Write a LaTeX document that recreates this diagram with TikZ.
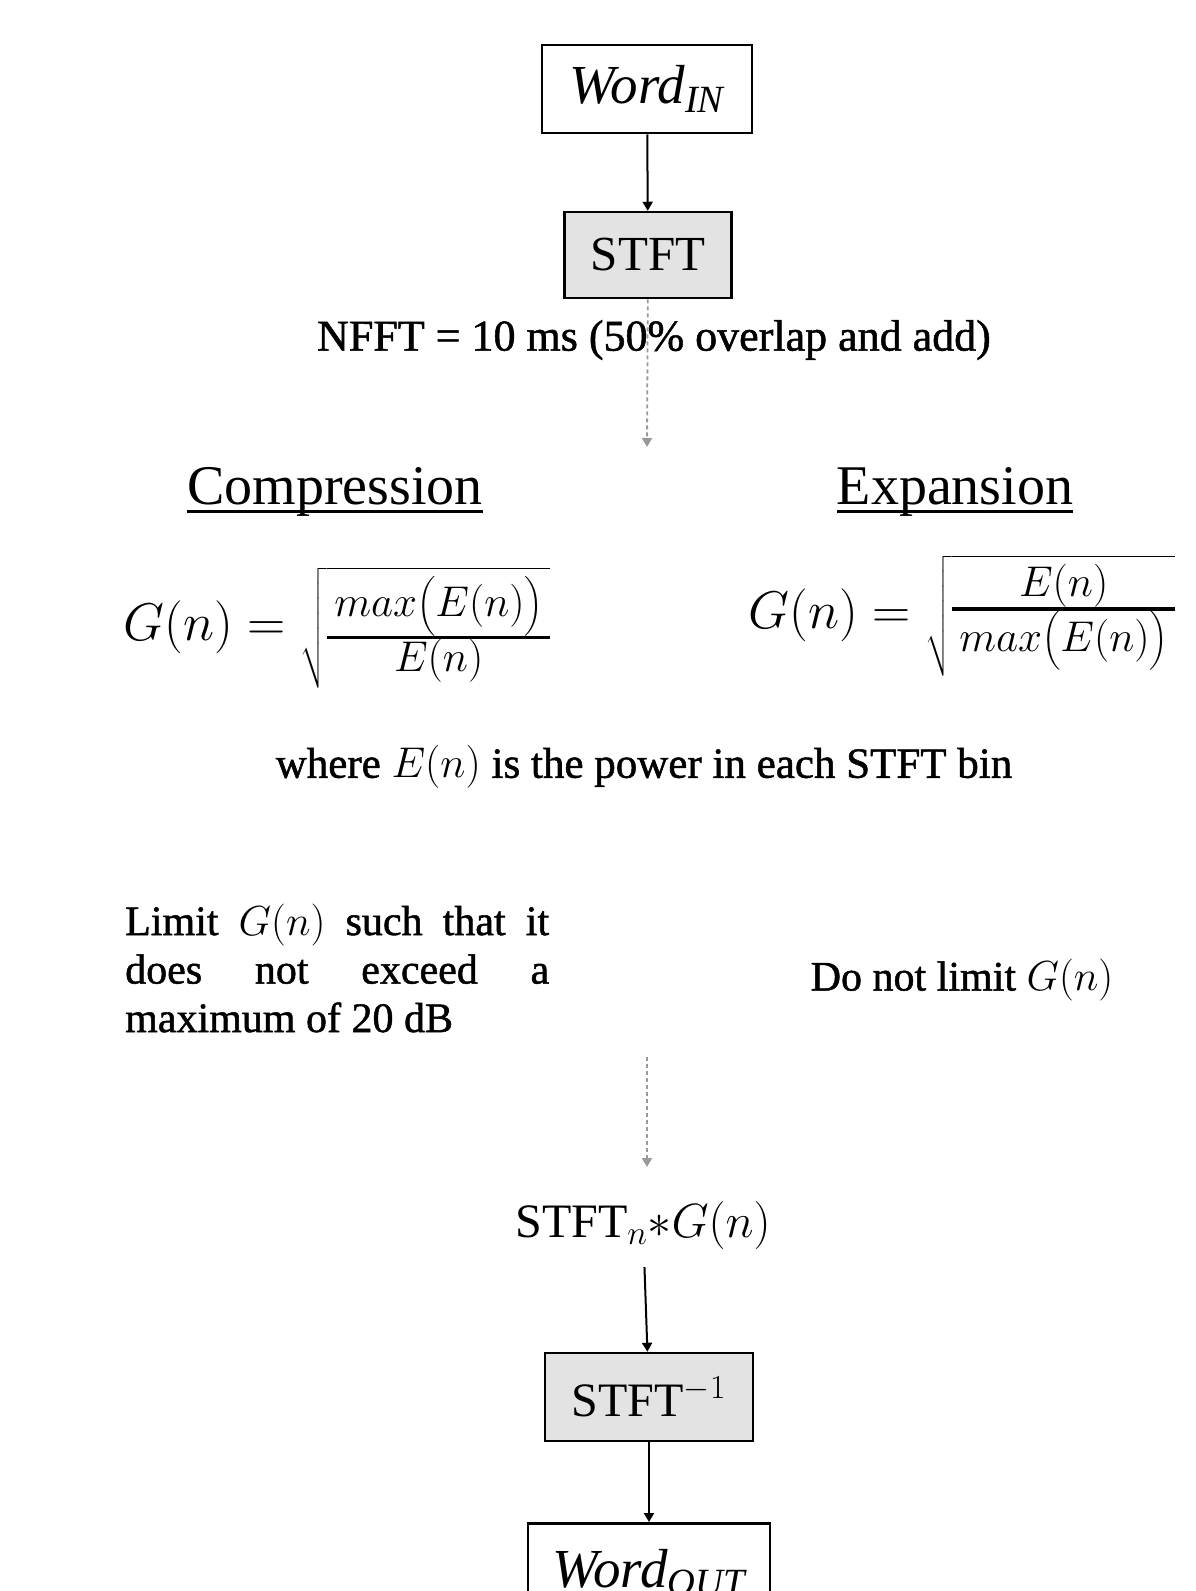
\RequirePackage{fix-cm}
\documentclass[tikz,border=0pt]{standalone}
\usepackage{amsmath}
\usepackage{fontspec}
\setmainfont{Liberation Serif}
\newfontfamily\semib{Liberation Serif}[FakeBold=1.2]
\usetikzlibrary{arrows.meta}
\tikzset{
  box/.style={draw=black, line width=2.5pt, inner sep=0pt, align=center},
  procbox/.style={box, fill=black!11},
  flow/.style={draw=black, line width=2pt, -{Triangle[length=9pt,width=10pt]}},
  dflow/.style={draw=black!40, line width=1.8pt, dash pattern=on 4pt off 3pt, -{Triangle[length=9pt,width=10pt]}},
  txt/.style={inner sep=0pt, align=center}
}
\newcommand{\fs}[1]{\fontsize{#1}{#1}\selectfont}
\newcommand{\myul}[1]{\setbox0\hbox{#1}\rlap{\raisebox{-8.5pt}{\rule{\wd0}{3pt}}}\box0}
\newcommand{\tfr}[2]{{\setlength\arrayrulewidth{3.5pt}\renewcommand\arraystretch{0.8}\begin{array}{@{\,}c@{\,}}#1\\\hline #2\end{array}}}
\begin{document}
\begin{tikzpicture}[x=1pt,y=-1pt]
\useasboundingbox (0,0) rectangle (1196,1591);
\clip (0,0) rectangle (1196,1591);
\node[box, minimum width=210pt, minimum height=88pt] (wordin) at (647,89) {\fs{55}\textit{Word}$_{\textit{IN}}$};
\node[procbox, minimum width=167pt, minimum height=86pt] (stft) at (648,255) {\fs{49}STFT};
\node[txt] (nfft) at (654,340) {\fs{44}\semib NFFT = 10 ms (50\% overlap and add)};
\coordinate (d1) at (647,447);
\node[txt] (comp) at (335,492) {\fs{56}\myul{Compression}};
\node[txt] (expn) at (955,492) {\fs{56}\myul{Expansion}};
\node[txt, anchor=base] (lform) at (337,640) {\fs{53}$G(n) = \sqrt{\text{\fs{43}$\tfr{max\bigl(E(n)\bigr)}{E(n)}$}}$};
\node[txt, anchor=base] (rform) at (962,628) {\fs{53}$G(n) = \sqrt{\text{\fs{43}$\tfr{E(n)}{max\bigl(E(n)\bigr)}$}}$};
\node[txt] (where) at (644,767) {\fs{43}\semib where $E(n)$ is the power in each STFT bin};
\node[inner sep=0pt, text width=424pt, align=justify, anchor=west, font=\fontsize{42}{48.5}\selectfont\semib] (limit) at (125,968)
  {Limit $G(n)$ such that it\linebreak does not exceed a\linebreak maximum of 20 dB};
\node[txt] (donot) at (962,980) {\fs{42}\semib Do not limit $G(n)$};
\coordinate (d2a) at (647,1057);
\coordinate (d2b) at (647,1167);
\node[txt] (stftn) at (643,1225) {\fs{48}STFT$_n{*}G(n)$};
\node[procbox, minimum width=208pt, minimum height=88pt] (istft) at (649,1397) {\fs{48}STFT$^{-1}$};
\node[box, minimum width=242pt, minimum height=112pt, anchor=north] (wordout) at (649,1522) {\raisebox{22pt}{\fs{55}\textit{Word}$_{\textit{OUT}}$}};
\draw[flow] (wordin) -- (stft);
\draw[dflow] (stft) -- (d1);
\draw[dflow] (d2a) -- (d2b);
\draw[flow, shorten <=18pt] (stftn) -- (istft);
\draw[flow] (istft) -- (wordout);
\end{tikzpicture}
\end{document}
